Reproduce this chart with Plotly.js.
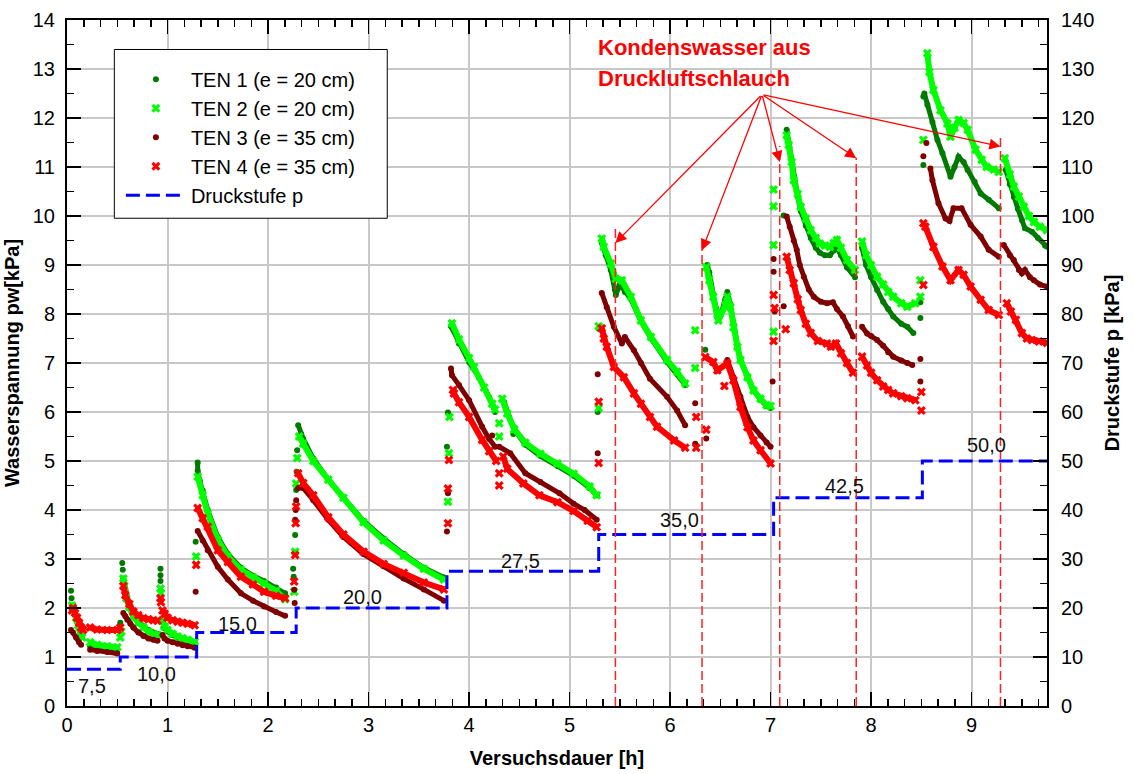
<!DOCTYPE html>
<html>
<head>
<meta charset="utf-8">
<script src="https://cdn.plot.ly/plotly-3.0.1.min.js"></script>
<style>html,body{margin:0;padding:0;background:#fff;}#chart{width:1133px;height:774px;}</style>
</head>
<body>
<div id="chart"></div>
<script>
// ---- series names ----
const seriesNames = ['TEN 1 (e = 20 cm)', 'TEN 2 (e = 20 cm)', 'TEN 3 (e = 35 cm)', 'TEN 4 (e = 35 cm)'];
const stepName = 'Druckstufe p';

// ---- TEN 1 : [time h, water tension kPa], null = gap ----
const ten1 = [
 [0.04,2.35],null,[0.045,2.2],null,[0.05,2.05],[0.07,1.95],[0.09,1.8],[0.11,1.65],[0.13,1.5],[0.15,1.42],null,
 [0.23,1.22],[0.3,1.2],[0.4,1.18],[0.5,1.15],null,[0.53,1.7],null,
 [0.55,2.92],null,[0.555,2.78],null,[0.56,2.6],[0.57,2.5],[0.59,2.25],[0.62,2.06],[0.66,1.86],[0.71,1.73],[0.76,1.63],[0.81,1.55],[0.86,1.5],[0.9,1.47],null,
 [0.93,2.8],null,[0.93,2.67],null,[0.93,2.55],null,[0.96,1.6],[1.0,1.52],[1.05,1.45],[1.1,1.4],[1.15,1.36],[1.2,1.33],[1.27,1.3],null,
 [1.28,3.35],null,[1.3,4.97],[1.3,4.8],[1.32,4.6],[1.35,4.4],[1.4,4.0],[1.5,3.45],[1.6,3.1],[1.73,2.82],[1.85,2.66],[1.96,2.55],[2.08,2.42],[2.17,2.3],null,
 [2.25,2.8],null,[2.255,2.64],null,[2.27,3.49],null,[2.28,4.41],null,[2.285,4.78],null,[2.29,5.22],null,
 [2.3,5.73],[2.33,5.55],[2.35,5.45],[2.45,5.05],[2.6,4.62],[2.75,4.25],[2.95,3.78],[3.15,3.42],[3.35,3.1],[3.55,2.82],[3.75,2.62],null,
 [3.78,5.29],null,[3.79,5.99],null,[3.82,7.75],[3.9,7.4],[4.0,7.02],[4.1,6.7],[4.2,6.3],[4.26,6.0],null,[4.44,5.55],null,
 [4.35,6.2],[4.4,5.9],[4.47,5.58],[4.56,5.33],[4.71,5.1],[4.88,4.9],[5.04,4.7],[5.2,4.45],[5.27,4.3],null,
 [5.28,6.0],null,[5.29,7.7],null,[5.32,9.45],[5.36,9.2],[5.41,8.9],[5.45,8.5],[5.46,8.39],[5.5,8.6],[5.55,8.45],[5.61,8.3],[5.71,7.85],[5.81,7.5],[5.97,7.02],[6.07,6.78],[6.15,6.55],null,
 [6.35,7.27],null,[6.37,9.0],[6.39,8.85],[6.43,8.4],[6.46,8.1],[6.5,7.95],[6.55,8.3],[6.57,8.45],[6.6,8.2],[6.63,7.8],[6.67,7.35],[6.7,7.06],[6.77,6.7],[6.83,6.44],[6.9,6.25],[6.96,6.12],[7.0,6.08],null,
 [7.13,10.01],null,[7.16,11.76],[7.18,11.5],[7.2,11.2],[7.23,10.8],[7.27,10.4],[7.3,10.1],[7.35,9.8],[7.4,9.55],[7.45,9.35],[7.49,9.25],[7.54,9.2],[7.59,9.2],[7.63,9.3],[7.66,9.35],[7.7,9.2],[7.76,8.95],[7.84,8.75],null,
 [7.91,9.35],[7.95,9.0],[8.0,8.75],[8.06,8.49],[8.12,8.25],[8.17,8.1],[8.22,7.95],[8.3,7.8],[8.36,7.74],[8.42,7.61],null,[8.49,8.24],null,[8.49,7.92],null,
 [8.52,11.04],null,[8.52,12.44],null,[8.53,12.5],[8.56,12.27],[8.61,11.92],[8.66,11.55],[8.71,11.28],[8.79,10.8],[8.83,11.0],[8.87,11.21],[8.92,11.1],[8.96,10.94],[9.03,10.7],[9.09,10.46],[9.17,10.33],[9.27,10.16],null,
 [9.34,10.94],[9.38,10.65],[9.42,10.39],[9.46,10.15],[9.5,9.92],[9.53,9.75],[9.6,9.68],[9.66,9.55],[9.73,9.4],[9.75,9.37]
];

// ---- TEN 2 ----
const ten2 = [
 [0.05,2.05],[0.07,1.95],[0.09,1.8],[0.11,1.65],[0.13,1.5],[0.15,1.4],null,
 [0.23,1.3],[0.3,1.25],[0.4,1.22],[0.5,1.2],null,[0.53,1.4],null,[0.54,1.52],null,
 [0.56,2.6],[0.57,2.45],[0.59,2.2],[0.62,2.02],[0.66,1.82],[0.71,1.7],[0.76,1.6],[0.81,1.52],[0.86,1.47],[0.9,1.45],null,
 [0.93,2.4],null,[0.935,2.3],null,[0.95,1.75],[0.97,1.62],[1.0,1.55],[1.05,1.47],[1.1,1.42],[1.15,1.38],[1.2,1.35],[1.27,1.31],null,
 [1.285,3.05],null,[1.3,4.68],[1.35,4.3],[1.4,3.93],[1.5,3.39],[1.6,3.05],[1.73,2.78],[1.85,2.62],[1.96,2.5],[2.08,2.35],[2.17,2.18],null,
 [2.26,2.33],null,[2.27,3.15],null,[2.28,4.54],null,[2.29,5.06],null,
 [2.31,5.5],[2.35,5.35],[2.45,5.0],[2.6,4.62],[2.75,4.25],[2.95,3.75],[3.15,3.38],[3.35,3.07],[3.55,2.8],[3.75,2.58],null,
 [3.79,4.17],null,[3.8,5.16],null,[3.805,5.9],null,[3.83,7.81],[3.9,7.48],[4.0,7.1],[4.05,6.92],[4.15,6.5],[4.23,6.17],[4.26,6.05],null,[4.3,5.77],null,[4.3,5.5],null,
 [4.33,6.27],[4.38,5.97],[4.45,5.65],[4.56,5.37],[4.71,5.15],[4.88,4.95],[5.04,4.74],[5.2,4.48],[5.27,4.3],null,
 [5.29,6.08],null,[5.29,7.75],null,[5.32,9.54],[5.34,9.37],[5.41,9.03],[5.46,8.72],[5.52,8.69],[5.61,8.35],[5.71,7.87],[5.81,7.53],[5.97,7.06],[6.07,6.82],[6.15,6.58],null,
 [6.25,7.67],null,[6.25,6.9],null,[6.36,8.96],[6.39,8.69],[6.43,8.35],[6.47,8.0],[6.48,7.87],[6.55,8.18],[6.57,8.35],[6.6,8.14],[6.63,7.73],[6.67,7.33],[6.7,7.06],[6.77,6.71],[6.83,6.44],[6.9,6.27],[6.96,6.14],[7.0,6.12],null,
 [7.03,10.54],null,[7.03,10.2],null,[7.03,9.41],null,[7.03,7.64],null,
 [7.16,11.65],[7.18,11.45],[7.21,11.1],[7.23,10.73],[7.27,10.45],[7.3,10.19],[7.35,9.95],[7.4,9.71],[7.45,9.55],[7.49,9.44],[7.54,9.4],[7.59,9.37],[7.63,9.45],[7.66,9.51],[7.7,9.35],[7.76,9.1],[7.84,8.9],null,
 [7.91,9.48],[7.95,9.2],[8.0,9.0],[8.06,8.76],[8.12,8.6],[8.17,8.45],[8.22,8.35],[8.3,8.22],[8.36,8.15],[8.44,8.22],null,[8.49,8.69],null,[8.49,8.35],null,
 [8.52,11.55],null,[8.56,13.32],[8.58,12.94],[8.62,12.57],[8.69,12.16],[8.76,11.89],[8.79,11.62],[8.83,11.8],[8.87,11.96],[8.92,11.9],[8.96,11.76],[9.04,11.35],[9.1,11.15],[9.15,11.0],[9.22,10.95],[9.27,10.9],null,
 [9.33,11.18],[9.38,10.85],[9.42,10.6],[9.47,10.4],[9.52,10.19],[9.57,10.0],[9.62,9.88],[9.68,9.78],[9.75,9.71]
];

// ---- TEN 3 ----
const ten3 = [
 [0.04,1.55],[0.06,1.5],[0.09,1.4],[0.12,1.3],[0.14,1.25],null,
 [0.23,1.15],[0.3,1.12],[0.4,1.1],[0.5,1.07],null,
 [0.56,1.9],[0.58,1.83],[0.6,1.76],[0.63,1.68],[0.66,1.6],[0.71,1.5],[0.76,1.43],[0.81,1.38],[0.86,1.35],[0.9,1.33],null,
 [0.95,1.45],[0.97,1.38],[1.0,1.33],[1.05,1.3],[1.1,1.27],[1.15,1.24],[1.2,1.22],[1.27,1.19],null,
 [1.28,2.33],null,[1.3,3.57],[1.35,3.38],[1.4,3.18],[1.5,2.84],[1.6,2.58],[1.73,2.3],[1.85,2.15],[1.96,2.03],[2.08,1.92],[2.17,1.84],null,
 [2.26,2.37],null,[2.265,2.1],null,[2.27,3.8],null,[2.275,4.0],null,[2.28,4.2],null,
 [2.3,4.45],[2.35,4.45],[2.45,4.2],[2.6,3.8],[2.75,3.45],[2.95,3.1],[3.15,2.85],[3.35,2.6],[3.55,2.38],[3.75,2.15],null,
 [3.78,3.56],null,[3.79,4.34],null,[3.82,6.89],[3.83,6.75],[3.9,6.55],[4.0,6.24],[4.13,5.7],[4.2,5.45],[4.26,5.29],null,[4.23,5.52],null,
 [4.3,5.29],[4.41,5.16],[4.56,4.75],[4.71,4.57],[4.9,4.34],[5.04,4.13],[5.15,4.0],[5.27,3.8],null,
 [5.28,6.77],null,[5.28,5.16],null,[5.32,8.43],[5.37,8.14],[5.44,7.74],[5.52,7.4],[5.55,7.53],[5.64,7.26],[5.71,7.0],[5.8,6.68],[5.97,6.31],[6.07,6.03],[6.15,5.73],null,
 [6.25,6.18],null,[6.25,5.35],null,[6.36,5.46],null,[6.57,7.06],[6.63,6.71],[6.7,6.31],[6.77,5.9],[6.83,5.69],[6.9,5.52],[6.96,5.38],[7.0,5.29],null,
 [7.03,9.12],null,[7.03,8.86],null,[7.04,8.05],null,[7.02,6.62],null,[7.13,8.16],null,
 [7.16,9.99],[7.19,9.78],[7.23,9.5],[7.26,9.31],[7.29,9.0],[7.33,8.76],[7.38,8.5],[7.43,8.35],[7.5,8.25],[7.56,8.22],[7.62,8.24],[7.66,8.1],[7.72,7.95],[7.77,7.75],[7.82,7.54],null,
 [7.91,7.74],[7.96,7.6],[8.0,7.55],[8.06,7.47],[8.12,7.35],[8.17,7.22],[8.22,7.13],[8.3,7.05],[8.36,7.0],[8.41,6.96],null,[8.49,7.08],null,[8.49,6.62],null,
 [8.52,11.22],null,[8.55,11.49],null,[8.59,10.97],[8.61,10.73],[8.67,10.26],[8.74,9.95],[8.78,9.9],[8.82,10.16],[8.9,10.16],[8.99,9.82],[9.09,9.58],[9.17,9.31],[9.27,9.17],null,
 [9.32,9.41],[9.38,9.2],[9.42,9.1],[9.47,8.9],[9.5,8.83],[9.53,8.9],[9.58,8.75],[9.62,8.69],[9.68,8.6],[9.75,8.56]
];

// ---- TEN 4 ----
const ten4 = [
 [0.05,1.95],[0.06,2.0],[0.08,1.9],[0.1,1.8],[0.12,1.7],[0.14,1.6],[0.16,1.55],null,
 [0.23,1.6],[0.3,1.56],[0.4,1.55],[0.5,1.55],[0.53,1.6],null,
 [0.56,2.45],[0.58,2.26],[0.62,2.08],[0.66,1.93],[0.71,1.85],[0.76,1.79],[0.81,1.77],[0.86,1.75],[0.9,1.74],null,
 [0.93,2.2],null,[0.935,2.12],null,[0.95,1.95],[0.97,1.88],[1.0,1.8],[1.05,1.75],[1.1,1.72],[1.15,1.7],[1.2,1.68],[1.27,1.65],null,
 [1.285,2.88],null,[1.3,4.04],[1.35,3.83],[1.4,3.66],[1.5,3.18],[1.6,2.94],[1.73,2.64],[1.85,2.48],[1.96,2.33],[2.08,2.25],[2.17,2.2],null,
 [2.26,2.54],null,[2.27,3.08],null,[2.275,3.73],null,[2.28,4.07],null,
 [2.3,4.75],[2.35,4.55],[2.45,4.3],[2.6,3.85],[2.75,3.5],[2.95,3.15],[3.15,2.9],[3.35,2.72],[3.55,2.52],[3.75,2.38],null,
 [3.79,3.73],null,[3.79,4.44],null,[3.8,5.02],null,[3.84,6.45],[3.85,6.38],[3.9,6.2],[4.0,5.9],[4.13,5.43],[4.2,5.2],[4.27,5.0],null,[4.3,4.75],null,[4.3,4.5],null,
 [4.34,5.09],[4.38,4.84],[4.54,4.54],[4.7,4.3],[4.88,4.16],[5.04,3.98],[5.18,3.78],[5.27,3.65],null,
 [5.29,6.21],null,[5.29,4.96],null,[5.32,7.71],[5.34,7.5],[5.37,7.33],[5.44,6.92],[5.54,6.71],[5.64,6.38],[5.71,6.17],[5.8,5.9],[5.87,5.7],[6.04,5.42],[6.15,5.27],null,
 [6.26,5.9],null,[6.26,5.27],null,[6.36,5.64],null,[6.35,7.12],[6.43,7.02],[6.47,6.85],[6.57,6.99],[6.63,6.65],[6.7,6.1],[6.77,5.69],[6.83,5.42],[6.9,5.22],[7.0,4.95],null,[6.54,6.53],null,
 [7.03,8.39],null,[7.04,8.12],null,[7.03,7.45],null,[7.15,7.69],null,
 [7.16,9.17],[7.19,8.9],[7.23,8.63],[7.27,8.3],[7.3,8.08],[7.35,7.8],[7.4,7.61],[7.47,7.45],[7.56,7.4],[7.6,7.33],[7.65,7.4],[7.7,7.2],[7.76,7.0],[7.82,6.8],null,
 [7.91,7.13],[7.96,6.95],[8.0,6.8],[8.06,6.65],[8.12,6.52],[8.17,6.45],[8.22,6.38],[8.3,6.32],[8.36,6.28],[8.44,6.24],null,[8.5,6.41],null,[8.5,6.03],null,[8.52,8.59],null,
 [8.52,9.85],[8.54,9.78],[8.62,9.37],[8.71,8.97],[8.79,8.69],[8.87,8.9],[8.92,8.8],[8.99,8.56],[9.09,8.29],[9.17,8.08],[9.27,7.98],null,
 [9.35,8.22],[9.39,8.05],[9.44,7.88],[9.5,7.61],[9.55,7.5],[9.6,7.47],[9.67,7.44],[9.75,7.41]
];

// ---- pressure steps (right axis, kPa) ----
const stepTimes  = [0, 0.53, 1.29, 2.28, 3.78, 5.29, 7.03, 8.51, 9.75];
const stepValues = [7.5, 10, 15, 20, 27.5, 35, 42.5, 50, 50];

// ---- condensate events (time h) ----
const eventTimes = [5.456, 6.318, 7.091, 7.852, 9.287];

// ---------------- drawing ----------------
function split(pts){ const x=[],y=[]; pts.forEach(p=>{ if(p===null){x.push(null);y.push(null);} else {x.push(p[0]);y.push(p[1]);} }); return {x,y}; }

const colors  = ['#007a00', '#00ff00', '#7f0000', '#ff0000'];
const symbols = ['circle', 'x', 'circle', 'x'];
const msizes  = [6, 8, 6, 8];
const lwidths = [5, 6, 5, 6];
const allSeries = [ten1, ten2, ten3, ten4];

const traces = [];
allSeries.forEach((s, i) => {
  const d = split(s);
  traces.push({x:d.x, y:d.y, type:'scatter', mode:'lines', connectgaps:false,
    line:{color:colors[i], width:lwidths[i]}, showlegend:false, hoverinfo:'skip', legendgroup:'g'+i});
  traces.push({x:d.x, y:d.y, type:'scatter', mode:'markers', name:seriesNames[i], legendgroup:'g'+i,
    marker:{color:colors[i], symbol:symbols[i], size:msizes[i], line:{width:0}}});
});
traces.push({x:stepTimes, y:stepValues, yaxis:'y2', type:'scatter', mode:'lines', name:stepName, legendgroup:'g5',
  line:{color:'#0000ff', width:3, dash:'14px,6px', shape:'hv'}});

const fontFam = '"Liberation Sans", Arial, sans-serif';

// step value labels (positions are layout)
const stepLabelPos = [[0.25,0.40],[0.89,0.66],[1.70,1.68],[2.94,2.22],[4.51,2.95],[6.09,3.79],[7.74,4.50],[9.15,5.32]];
const annotations = stepLabelPos.map((p,i)=>({x:p[0], y:p[1], xref:'x', yref:'y', showarrow:false,
  text: stepValues[i].toFixed(1).replace('.', ','), font:{size:20, color:'#111', family:fontFam}}));

annotations.push({x:5.265, y:13.44, xref:'x', yref:'y', xanchor:'left', showarrow:false,
  text:'<b>Kondenswasser aus</b>', font:{size:22, color:'#ff0000', family:fontFam}});
annotations.push({x:5.265, y:12.80, xref:'x', yref:'y', xanchor:'left', showarrow:false,
  text:'<b>Druckluftschlauch</b>', font:{size:22, color:'#ff0000', family:fontFam}});

const arrowTail = [6.915, 12.48];
const arrowTipY = [9.45, 9.30, 11.10, 11.18, 11.42];
const lineTopY  = [9.78, 9.55, 11.43, 11.19, 11.60];
eventTimes.forEach((t,i)=>{
  annotations.push({x:t, y:arrowTipY[i], ax:arrowTail[0], ay:arrowTail[1], xref:'x', yref:'y', axref:'x', ayref:'y',
    text:'', showarrow:true, arrowhead:2, arrowsize:1.7, arrowwidth:1.3, arrowcolor:'#ff0000', standoff:0, startstandoff:0});
});

const shapes = eventTimes.map((t,i)=>({type:'line', xref:'x', yref:'y', x0:t, x1:t, y0:0, y1:lineTopY[i],
  line:{color:'#ff2020', width:1.5, dash:'9px,4px'}, layer:'above'}));
shapes.push({type:'rect', xref:'paper', yref:'paper', x0:0.0483, x1:0.3268, y0:0.711, y1:0.957,
  fillcolor:'#ffffff', line:{color:'#000', width:1}, layer:'above'});

const axisCommon = {ticks:'inside', tickcolor:'#000', tickwidth:1.5, showline:true, linecolor:'#000', linewidth:2,
  zeroline:false, tickfont:{size:20, family:fontFam, color:'#000'}};

const layout = {
  width:1133, height:774,
  margin:{l:67, r:86, t:20, b:68, pad:0},
  paper_bgcolor:'#fff', plot_bgcolor:'#fff',
  font:{family:fontFam, size:20, color:'#000'},
  showlegend:true,
  legend:{x:0.055, y:0.942, xanchor:'left', yanchor:'top', bgcolor:'rgba(0,0,0,0)', borderwidth:0,
    font:{size:20, family:fontFam, color:'#000'}, tracegroupgap:0, itemwidth:60, itemsizing:'trace'},
  xaxis:Object.assign({}, axisCommon, {range:[0,9.75], tick0:0, dtick:1, ticklen:14, mirror:'ticks',
    showgrid:true, gridcolor:'#c8c8c8', gridwidth:2,
    minor:{dtick:1/6, tick0:0, ticks:'inside', ticklen:7, tickcolor:'#000', tickwidth:1.5, showgrid:false},
    title:{text:'<b>Versuchsdauer [h]</b>', font:{size:20, family:fontFam}, standoff:16}}),
  yaxis:Object.assign({}, axisCommon, {range:[0,14], tick0:0, dtick:1, ticklen:14, mirror:true,
    showgrid:true, gridcolor:'#c8c8c8', gridwidth:2, ticklabelstandoff:6,
    minor:{dtick:0.5, tick0:0, ticks:'inside', ticklen:7, tickcolor:'#000', tickwidth:1.5, showgrid:false},
    title:{text:'<b>Wasserspannung pw[kPa]</b>', font:{size:20, family:fontFam}, standoff:8}}),
  yaxis2:Object.assign({}, axisCommon, {range:[0,140], tick0:0, dtick:10, ticklen:14, overlaying:'y', side:'right',
    showgrid:false, ticklabelstandoff:8,
    minor:{dtick:5, tick0:0, ticks:'inside', ticklen:7, tickcolor:'#000', tickwidth:1.5, showgrid:false},
    title:{text:'<b>Druckstufe p [kPa]</b>', font:{size:20, family:fontFam}, standoff:12}}),
  shapes:shapes,
  annotations:annotations
};

Plotly.newPlot('chart', traces, layout, {displayModeBar:false, staticPlot:true});
</script>
</body>
</html>
